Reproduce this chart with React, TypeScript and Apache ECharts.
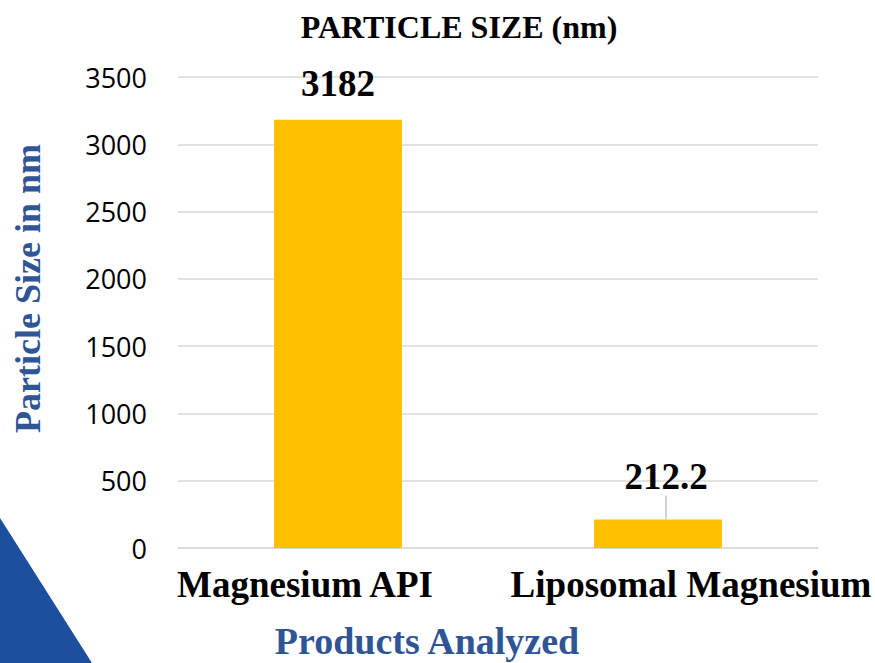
import React, { useEffect, useRef } from "react";
import * as echarts from "echarts";

const categories = ["Magnesium API", "Liposomal Magnesium"];
const values = [3182, 212.2];
const yTicks = { min: 0, max: 3500, interval: 500 };
const titleText = "PARTICLE SIZE (nm)";
const yName = "Particle Size in nm";
const xName = "Products Analyzed";

export default function App() {
  const ref = useRef<HTMLDivElement>(null);
  useEffect(() => {
    if (!ref.current) return;
    const chart = echarts.init(ref.current, undefined, { renderer: "svg" });
    const serif = "'Liberation Serif', 'Times New Roman', serif";
    const labelBase = {
      show: true,
      position: "top",
      distance: 18,
      fontFamily: serif,
      fontWeight: "bold",
      fontSize: 37,
      color: "#000",
    };
    chart.setOption({
      animation: false,
      backgroundColor: "#ffffff",
      title: {
        text: titleText,
        left: 454,
        textAlign: "center",
        top: 6,
        textStyle: { fontFamily: serif, fontWeight: "bold", fontSize: 32, color: "#000" },
      },
      grid: { left: 178, right: 57, top: 77, bottom: 115, outerBoundsMode: "none", containLabel: false },
      graphic: [
        {
          type: "polygon",
          shape: { points: [[0, 518], [92, 663], [0, 663]] },
          style: { fill: "#1c4f9d" },
          z: 0,
        },
      ],
      xAxis: {
        type: "category",
        data: categories,
        axisTick: { show: false },
        axisLine: { lineStyle: { color: "#d9d9d9", width: 1.5 } },
        axisLabel: {
          margin: 18,
          formatter: (v: string, i: number) => (i === 0 ? `{a|${v}}` : `{b|${v}}`),
          rich: {
            a: { fontFamily: serif, fontWeight: "bold", fontSize: 37, color: "#000", padding: [0, 66, 0, 0] },
            b: { fontFamily: serif, fontWeight: "bold", fontSize: 37, color: "#000", padding: [0, 0, 0, 66] },
          },
        },
        name: xName,
        nameLocation: "middle",
        nameGap: 74,
        nameTextStyle: {
          fontFamily: serif,
          fontWeight: "bold",
          fontSize: 38,
          color: "#2f5597",
          padding: [0, 142, 0, 0],
        },
      },
      yAxis: {
        type: "value",
        min: yTicks.min,
        max: yTicks.max,
        interval: yTicks.interval,
        axisLine: { show: false },
        axisTick: { show: false },
        splitLine: { lineStyle: { color: "#d9d9d9", width: 1.5 } },
        axisLabel: {
          margin: 31,
          formatter: (v: number) => String(v),
          fontFamily: "'Open Sans', 'Noto Sans', sans-serif",
          fontSize: 27,
          color: "#000",
        },
        name: yName,
        nameLocation: "middle",
        nameRotate: 90,
        nameGap: 132,
        nameTextStyle: {
          fontFamily: serif,
          fontWeight: "bold",
          fontSize: 36,
          color: "#2f5597",
          padding: [0, 0, 0, 48],
        },
      },
      series: [
        {
          type: "bar",
          data: [
            { value: values[0], labelLine: { show: false } },
            { value: values[1], labelLine: { show: true, lineStyle: { color: "#a6a6a6", width: 1 } } },
          ],
          barWidth: "40%",
          itemStyle: { color: "#ffc000" },
          label: labelBase,
          labelLayout: (p: any) => (p.dataIndex === 1 ? { dx: 8, dy: -6 } : {}),
        },
      ],
    });
    return () => chart.dispose();
  }, []);
  return (
    <div
      ref={ref}
      style={{ position: "fixed", left: 0, top: 0, width: 875, height: 663 }}
    />
  );
}
